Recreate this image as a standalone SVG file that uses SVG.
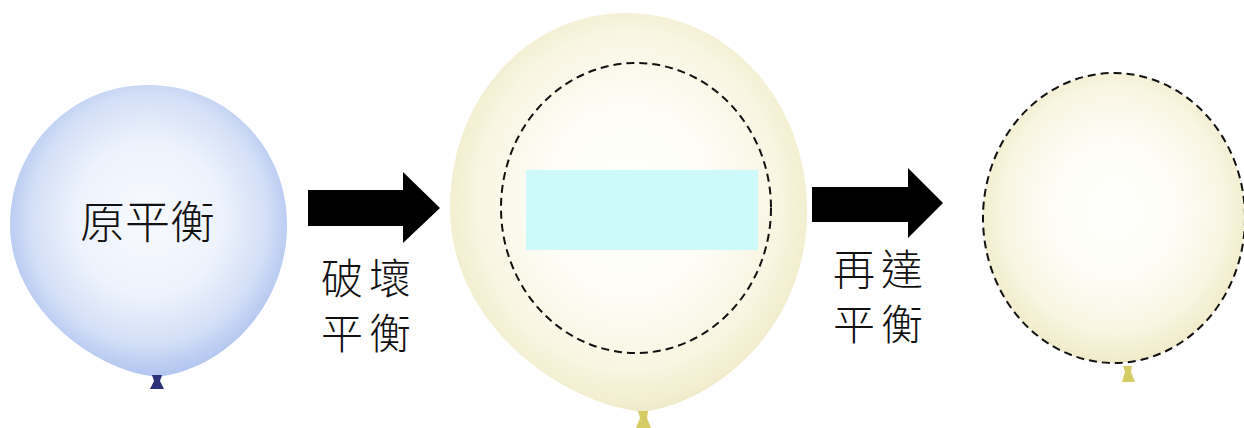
<svg xmlns="http://www.w3.org/2000/svg" width="1244" height="428" viewBox="0 0 1244 428">
  <defs>
    <radialGradient id="blueFill" cx="50%" cy="46%" r="53%">
      <stop offset="0" stop-color="#f8fafe"/>
      <stop offset="0.5" stop-color="#edf2fc"/>
      <stop offset="0.8" stop-color="#d4e0f7"/>
      <stop offset="0.94" stop-color="#bccdf2"/>
      <stop offset="1" stop-color="#b4c7f0"/>
    </radialGradient>
    <radialGradient id="yellowFill" cx="50%" cy="47%" r="53%">
      <stop offset="0" stop-color="#fffffd"/>
      <stop offset="0.5" stop-color="#fdfcf4"/>
      <stop offset="0.8" stop-color="#f8f5e1"/>
      <stop offset="0.95" stop-color="#f2eecf"/>
      <stop offset="1" stop-color="#eeeac8"/>
    </radialGradient>
    <style>
      .label { font-family: "Noto Sans CJK TC", "Noto Sans CJK SC", sans-serif; font-weight: 300; fill: #111; }
      .dash { fill: none; stroke: #111; stroke-width: 2; stroke-dasharray: 8 5; }
      .arrow { fill: #000; }
      .knot-blue { fill: #2c3178; }
      .knot-yellow { fill: #d6cc66; }
    </style>
  </defs>

  <rect width="1244" height="428" fill="#ffffff"/>

  <!-- original equilibrium -->
  <g id="balloon-original">
    <path d="M148,85 C228,85 287,148 287,225 C287,305 226,369 157,377 C90,370 10,305 10,225 C10,148 70,85 148,85 Z" fill="url(#blueFill)"/>
    <path class="knot-blue" d="M152,375 L162,375 L160,381 L164,389 L150,389 L154,381 Z"/>
    <text class="label" x="80" y="239" font-size="45">原平衡</text>
  </g>

  <!-- disturbed state -->
  <g id="balloon-disturbed">
    <path d="M626,13 C728,13 807,100 807,212 C807,320 725,400 643,412 C555,402 450,320 450,208 C450,98 528,13 626,13 Z" fill="url(#yellowFill)"/>
    <path class="knot-yellow" d="M638,411 L648,411 L647,418 L651,428 L636,428 L640,418 Z"/>
    <ellipse class="dash" cx="636" cy="208" rx="135" ry="145"/>
    <rect x="526" y="170" width="232" height="80" fill="#ccfafa"/>
  </g>

  <!-- restored equilibrium -->
  <g id="balloon-restored">
    <ellipse cx="1114" cy="218" rx="131" ry="145" fill="url(#yellowFill)"/>
    <path class="knot-yellow" d="M1123,366 L1132,366 L1131,372 L1135,382 L1122,382 L1125,372 Z"/>
    <ellipse class="dash" cx="1114" cy="218" rx="131" ry="145"/>
  </g>

  <!-- transitions -->
  <g id="connectors">
    <polygon class="arrow" points="308,190 403,190 403,172 440,208 403,243 403,226 308,226"/>
    <text class="label" x="321" y="294" font-size="42" letter-spacing="6">破壞</text>
    <text class="label" x="321" y="349" font-size="42" letter-spacing="6">平衡</text>

    <polygon class="arrow" points="812,187 908,187 908,168 943,203 908,238 908,222 812,222"/>
    <text class="label" x="833" y="285" font-size="42" letter-spacing="6">再達</text>
    <text class="label" x="833" y="340" font-size="42" letter-spacing="6">平衡</text>
  </g>
</svg>
